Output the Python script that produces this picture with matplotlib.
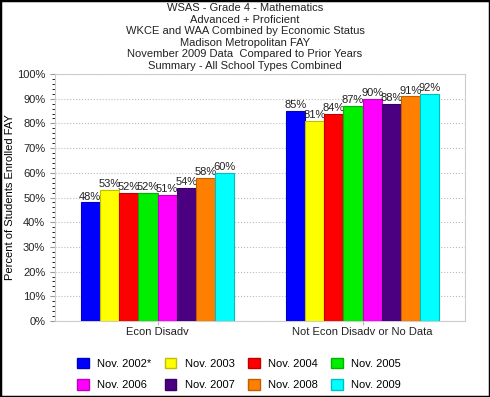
import matplotlib
matplotlib.use("Agg")
import matplotlib.pyplot as plt
import matplotlib.colors as mcolors
from matplotlib.patches import Rectangle
from matplotlib.ticker import MultipleLocator, PercentFormatter
import numpy as np

plt.rcParams['font.family'] = ['Liberation Sans', 'DejaVu Sans']

categories = ['Econ Disadv', 'Not Econ Disadv or No Data']
years = ['Nov. 2002*', 'Nov. 2003', 'Nov. 2004', 'Nov. 2005',
         'Nov. 2006', 'Nov. 2007', 'Nov. 2008', 'Nov. 2009']
colores = ['#0000ff', '#ffff00', '#ff0000', '#00ee00',
           '#ff00ff', '#4b0082', '#ff8000', '#00ffff']
# valores por ano: [Econ Disadv, Not Econ Disadv]
valores = [
    [48, 85],
    [53, 81],
    [52, 84],
    [52, 87],
    [51, 90],
    [54, 88],
    [58, 91],
    [60, 92],
]
titulo = ('WSAS - Grade 4 - Mathematics\nAdvanced + Proficient\n'
          'WKCE and WAA Combined by Economic Status\nMadison Metropolitan FAY\n'
          'November 2009 Data  Compared to Prior Years\nSummary - All School Types Combined')

fig = plt.figure(figsize=(4.9, 3.97), dpi=100)
ax = fig.add_axes([55/490, 1-321/397, 410/490, 247/397])

def escurecer(cor):
    return tuple(c * 0.75 for c in mcolors.to_rgb(cor))

x = np.arange(len(categories))
largura = 0.75 / len(years)
for i in range(len(years)):
    pos = x - 0.375 + largura * (i + 0.5)
    barras = ax.bar(pos, valores[i], largura, color=colores[i],
                    edgecolor=escurecer(colores[i]), linewidth=0.8, zorder=3)
    ax.bar_label(barras, labels=['%d%%' % v for v in valores[i]],
                 fontsize=8, padding=0.5, color='#222222')

ax.set_xlim(-0.5, 1.5)
ax.set_ylim(0, 100)
ax.yaxis.set_major_locator(MultipleLocator(10))
ax.yaxis.set_minor_locator(MultipleLocator(2))
ax.yaxis.set_major_formatter(PercentFormatter(decimals=0))
ax.set_xticks(x)
ax.set_xticklabels(categories, fontsize=8)
ax.tick_params(axis='y', labelsize=8, colors='#999999', labelcolor='#222222')
ax.tick_params(axis='x', length=3, pad=1.5, colors='#bbbbbb', labelcolor='#222222')
ax.grid(axis='y', linestyle=':', color='#bbbbbb', linewidth=0.8, zorder=0)
for s in ax.spines.values():
    s.set_color('#cccccc')
ax.set_ylabel('Percent of Students Enrolled FAY', fontsize=8)
ax.yaxis.set_label_coords(-40/410, 0.5)

fig.text(0.5, 1-3/397, titulo, ha='center', va='top', fontsize=8,
         linespacing=1.2, color='#222222')

# legenda preenchida por linha (matplotlib preenche por coluna)
ordem = [0, 4, 1, 5, 2, 6, 3, 7]
handles = [Rectangle((0, 0), 1, 1, facecolor=colores[i], edgecolor=escurecer(colores[i]))
           for i in ordem]
rotulos = [years[i] for i in ordem]
fig.legend(handles, rotulos, ncol=4, loc='center', bbox_to_anchor=(239/490, 1-374/397),
           frameon=False, fontsize=8, handlelength=1.05, handleheight=1.05,
           columnspacing=1.2, handletextpad=0.75, labelspacing=0.95)

# moldura preta da imagem
fig.patches.append(Rectangle((0, 0), 1, 1, transform=fig.transFigure,
                             fill=False, edgecolor='black', linewidth=2.5))

fig.savefig('out.png', dpi=100)
